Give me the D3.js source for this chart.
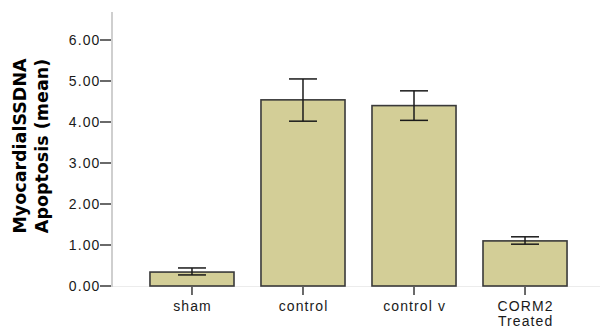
<!DOCTYPE html>
<html>
<head>
<meta charset="utf-8">
<script src="https://cdn.jsdelivr.net/npm/d3@7"></script>
<style>
  body { margin: 0; background: #fff; }
  svg { display: block; }
  .tick-label { font-family: "Liberation Sans", Arial, sans-serif; font-size: 14px; fill: #1a1a1a; letter-spacing: 1.1px; }
  .title { font-family: "DejaVu Sans", Verdana, sans-serif; font-weight: bold; font-size: 17.5px; fill: #000; }
</style>
</head>
<body>
<div id="viz"></div>
<script>
const categories = ["sham", "control", "control v", "CORM2\nTreated"];
const means = [0.34, 4.54, 4.40, 1.10];
const errLow = [0.27, 4.02, 4.04, 1.02];
const errHigh = [0.44, 5.05, 4.76, 1.20];
const yTicks = [0, 1, 2, 3, 4, 5, 6];
const yTitle = ["MyocardialSSDNA", "Apoptosis (mean)"];

const width = 605;
const height = 327;

const svg = d3.select("#viz").append("svg")
  .attr("width", width)
  .attr("height", height);

const y = d3.scaleLinear().domain([0, 6]).range([286, 40]);
const yTop = 12;
const axisX = 112;

const x = d3.scaleBand()
  .domain(categories)
  .range([axisX, 605])
  .paddingInner(0.243)
  .paddingOuter(0.342);

// baseline
svg.append("line")
  .attr("x1", axisX).attr("x2", 600)
  .attr("y1", y(0) + 0.5).attr("y2", y(0) + 0.5)
  .attr("stroke", "#ececec").attr("stroke-width", 1);

// bars
svg.append("g").selectAll("rect")
  .data(means)
  .join("rect")
  .attr("x", (d, i) => x(categories[i]))
  .attr("width", x.bandwidth())
  .attr("y", d => y(d))
  .attr("height", d => y(0) - y(d))
  .attr("fill", "#d3ce97")
  .attr("stroke", "#3a3a3a")
  .attr("stroke-width", 1.6);

// error bars
const capW = 14;
const err = svg.append("g").attr("stroke", "#1a1a1a").attr("stroke-width", 1.5);
categories.forEach((c, i) => {
  const cx = x(c) + x.bandwidth() / 2;
  err.append("line").attr("x1", cx).attr("x2", cx).attr("y1", y(errLow[i])).attr("y2", y(errHigh[i]));
  err.append("line").attr("x1", cx - capW).attr("x2", cx + capW).attr("y1", y(errLow[i])).attr("y2", y(errLow[i]));
  err.append("line").attr("x1", cx - capW).attr("x2", cx + capW).attr("y1", y(errHigh[i])).attr("y2", y(errHigh[i]));
});

// y axis line
svg.append("line")
  .attr("x1", axisX).attr("x2", axisX)
  .attr("y1", yTop).attr("y2", y(0) + 1)
  .attr("stroke", "#cfcfcf").attr("stroke-width", 2);

// y ticks
const yAxis = svg.append("g");
yAxis.selectAll("line")
  .data(yTicks)
  .join("line")
  .attr("x1", 100).attr("x2", 111)
  .attr("y1", d => y(d)).attr("y2", d => y(d))
  .attr("stroke", "#1a1a1a").attr("stroke-width", 1.3);
yAxis.selectAll("text")
  .data(yTicks)
  .join("text")
  .attr("class", "tick-label")
  .attr("x", 100.5)
  .attr("y", d => y(d))
  .attr("dy", "0.36em")
  .attr("text-anchor", "end")
  .text(d => d3.format(".2f")(d));

// x ticks
const xAxis = svg.append("g");
categories.forEach(c => {
  const cx = x(c) + x.bandwidth() / 2;
  xAxis.append("line")
    .attr("x1", cx).attr("x2", cx)
    .attr("y1", 287).attr("y2", 295)
    .attr("stroke", "#1a1a1a").attr("stroke-width", 1.3);
  const t = xAxis.append("text")
    .attr("class", "tick-label")
    .attr("text-anchor", "middle");
  c.split("\n").forEach((line, k) => {
    t.append("tspan")
      .attr("x", cx + 0.6)
      .attr("y", 311 + k * 14.5)
      .text(line);
  });
});

// y title
const title = svg.append("text")
  .attr("class", "title")
  .attr("transform", "translate(0,146) rotate(-90)")
  .attr("text-anchor", "middle");
yTitle.forEach((line, k) => {
  title.append("tspan")
    .attr("x", 0)
    .attr("y", 26 + k * 21.5)
    .text(line);
});
</script>
</body>
</html>
